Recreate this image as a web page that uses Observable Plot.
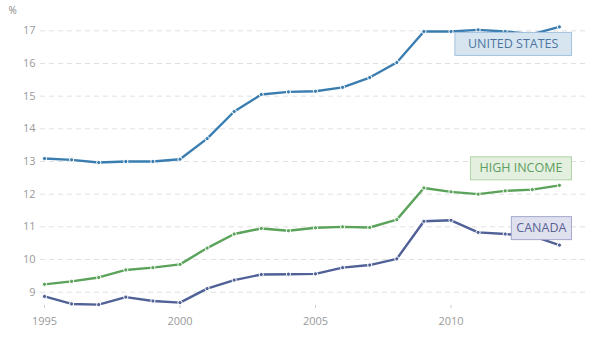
<!DOCTYPE html>
<html><head><meta charset="utf-8">
<script src="https://cdn.jsdelivr.net/npm/d3@7"></script>
<script src="https://cdn.jsdelivr.net/npm/@observablehq/plot@0.6"></script>
<style>body{margin:0;background:#fff;font-family:"Open Sans",sans-serif}</style>
</head><body><div id="chart"></div>
<script>
const years = d3.range(1995, 2015);
const unitedStates = [13.09,13.05,12.97,13.0,13.0,13.07,13.7,14.53,15.05,15.13,15.15,15.27,15.57,16.03,16.98,16.98,17.03,16.98,16.9,17.12];
const highIncome  = [9.24,9.33,9.45,9.68,9.75,9.85,10.35,10.78,10.95,10.88,10.97,11.0,10.98,11.22,12.19,12.07,12.0,12.1,12.14,12.27];
const canada      = [8.87,8.64,8.62,8.85,8.73,8.68,9.11,9.37,9.54,9.55,9.56,9.75,9.83,10.02,11.17,11.2,10.83,10.78,10.72,10.44];
const seriesNames = ["UNITED STATES","HIGH INCOME","CANADA"];
const lineColors = ["#3a7db0","#5ba35b","#4f6196"];
const boxFill = ["#d7e5f1","#e3f0df","#dfe1ef"];
const boxStroke = ["#a3c2dc","#afd3a6","#a4a9cc"];
const textColors = ["#4d75a0","#5f9c5f","#5a6292"];
const labelDy = [17,-17,-17];
const boxPad = [13,9,5];
const xTicks = [1995,2000,2005,2010];
const yTicks = [9,10,11,12,13,14,15,16,17];

const all = [unitedStates, highIncome, canada];
const data = [];
all.forEach((vals, s) => vals.forEach((v, i) => data.push({series: seriesNames[s], year: years[i], value: v})));
const lastPts = all.map((vals, s) => ({series: seriesNames[s], year: years[years.length-1], value: vals[vals.length-1], i: s}));

const plot = Plot.plot({
  width: 598, height: 351,
  marginLeft: 44, marginRight: 12, marginTop: 14, marginBottom: 43,
  style: {fontFamily: "Open Sans, sans-serif", fontSize: "11px", color: "#999", background: "#fff"},
  x: {domain: [1995, 2015], label: null},
  y: {domain: [8.5, 17.5], label: null},
  color: {domain: seriesNames, range: lineColors},
  marks: [
    Plot.gridY(yTicks, {stroke: "#e0e0e0", strokeOpacity: 1, strokeDasharray: "5,4", insetLeft: -4, insetRight: 0}),
    Plot.axisY(yTicks, {tickSize: 0, tickPadding: 9, fill: "#9a9a9a"}),
    Plot.axisX(xTicks, {tickSize: 3, tickPadding: 9, stroke: "#ccc", fill: "#9a9a9a", dy: -3, tickFormat: d => String(d)}),
    Plot.line(data, {x: "year", y: "value", z: "series", stroke: "series", strokeWidth: 2.4}),
    Plot.dot(data, {x: "year", y: "value", fill: "series", stroke: "#fff", strokeWidth: 1, r: 2.1}),
    Plot.text(lastPts, {x: "year", y: "value", text: "series", textAnchor: "end", dx: 12, fontSize: 12.5,
      fill: d => textColors[d.i], className: "lbl"}),
    Plot.text(["%"], {frameAnchor: "top-left", dx: -36, dy: -8, fill: "#888", fontSize: 10, textAnchor: "start"})
  ]
});
document.getElementById("chart").appendChild(plot);
const g = plot.querySelector("g.lbl");
if (g) {
  const texts = Array.from(g.querySelectorAll("text"));
  texts.forEach((t, k) => {
    const tr = t.getAttribute("transform") || "";
    t.setAttribute("transform", tr + ` translate(${-boxPad[k]},${labelDy[k]})`);
  });
  texts.forEach((t, k) => {
    const bb = t.getBBox();
    const r = document.createElementNS("http://www.w3.org/2000/svg", "rect");
    const padX = boxPad[k], padY = 3;
    r.setAttribute("x", bb.x - padX);
    r.setAttribute("y", bb.y - padY + 0.5);
    r.setAttribute("width", bb.width + 2*padX);
    r.setAttribute("height", bb.height + 2*padY);
    r.setAttribute("fill", boxFill[k]);
    r.setAttribute("stroke", boxStroke[k]);
    r.setAttribute("stroke-width", 1);
    const tr = t.getAttribute("transform");
    if (tr) r.setAttribute("transform", tr);
    g.insertBefore(r, t);
  });
}
</script></body></html>
